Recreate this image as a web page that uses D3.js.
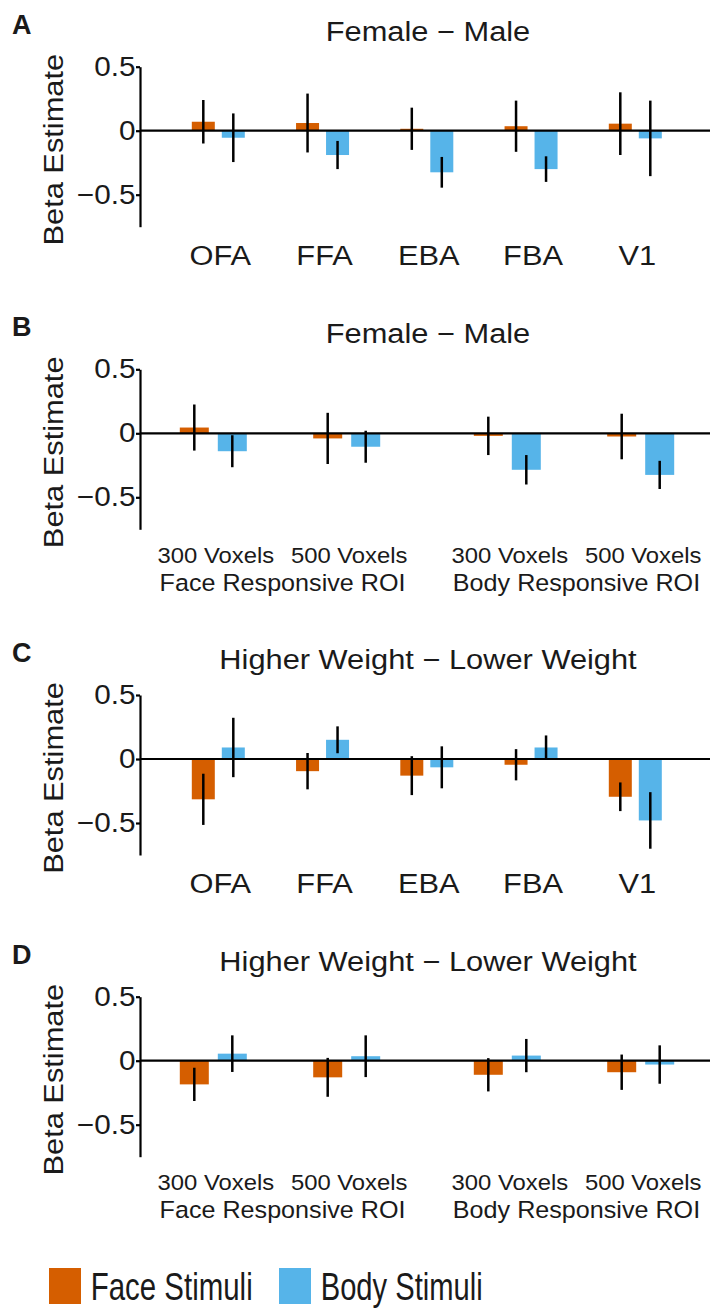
<!DOCTYPE html>
<html>
<head>
<meta charset="utf-8">
<script src="https://cdn.jsdelivr.net/npm/d3@7"></script>
<style>
    body { margin: 0; background: #fff; }
    text { font-family: "Liberation Sans", Arial, Helvetica, sans-serif; fill: #1a1a1a; }
</style>
</head>
<body>
<div id="chart"></div>
<script>
// categories
const regions = ["OFA", "FFA", "EBA", "FBA", "V1"];
const roiGroups = ["Face Responsive ROI", "Body Responsive ROI"];
const voxelSizes = ["300 Voxels", "500 Voxels"];
const stimuli = ["Face Stimuli", "Body Stimuli"];
const yTicks = [-0.5, 0, 0.5];

// A: Female - Male, by region
const sexRegionFace = [0.07, 0.06, 0.015, 0.035, 0.055];
const sexRegionFaceErr = [0.17, 0.23, 0.165, 0.2, 0.245];
const sexRegionBody = [-0.055, -0.19, -0.325, -0.3, -0.06];
const sexRegionBodyErr = [0.19, 0.11, 0.12, 0.1, 0.295];

// B: Female - Male, by ROI size (Face 300, Face 500, Body 300, Body 500)
const sexRoiFace = [0.045, -0.04, -0.02, -0.025];
const sexRoiFaceErr = [0.18, 0.2, 0.15, 0.178];
const sexRoiBody = [-0.14, -0.105, -0.285, -0.325];
const sexRoiBodyErr = [0.125, 0.125, 0.115, 0.11];

// C: Higher Weight - Lower Weight, by region
const weightRegionFace = [-0.315, -0.095, -0.13, -0.045, -0.295];
const weightRegionFaceErr = [0.2, 0.142, 0.152, 0.122, 0.112];
const weightRegionBody = [0.09, 0.15, -0.065, 0.09, -0.48];
const weightRegionBodyErr = [0.232, 0.105, 0.164, 0.094, 0.221];

// D: Higher Weight - Lower Weight, by ROI size
const weightRoiFace = [-0.185, -0.13, -0.11, -0.09];
const weightRoiFaceErr = [0.13, 0.152, 0.13, 0.138];
const weightRoiBody = [0.055, 0.035, 0.04, -0.03];
const weightRoiBodyErr = [0.143, 0.163, 0.13, 0.15];

const colors = {"Face Stimuli": "#D55E00", "Body Stimuli": "#56B4E9"};

const width = 710, height = 1309;
const axisX = 140;
// the figure's font runs a bit wider than Arial
const stretch = 1.1;

let svg = d3.select("#chart").append("svg")
    .attr("width", width)
    .attr("height", height);

let panels = [
    {letter: "A", title: "Female \u2212 Male", top: 66.7, type: "region",
        face: sexRegionFace, faceErr: sexRegionFaceErr, body: sexRegionBody, bodyErr: sexRegionBodyErr},
    {letter: "B", title: "Female \u2212 Male", top: 369.3, type: "roi",
        face: sexRoiFace, faceErr: sexRoiFaceErr, body: sexRoiBody, bodyErr: sexRoiBodyErr},
    {letter: "C", title: "Higher Weight \u2212 Lower Weight", top: 695, type: "region",
        face: weightRegionFace, faceErr: weightRegionFaceErr, body: weightRegionBody, bodyErr: weightRegionBodyErr},
    {letter: "D", title: "Higher Weight \u2212 Lower Weight", top: 996.7, type: "roi",
        face: weightRoiFace, faceErr: weightRoiFaceErr, body: weightRoiBody, bodyErr: weightRoiBodyErr}
];

panels.forEach(p => drawPanel(p));

function drawPanel(p) {
    let g = svg.append("g");

    let y = d3.scaleLinear()
        .domain([-0.75, 0.5])
        .range([p.top + 160, p.top]);

    // x positions
    let cats, xCenter, barW, inner;
    if (p.type === "region") {
        cats = regions;
        let x = d3.scalePoint().domain(regions).range([218.3, 635.3]);
        xCenter = d => x(d);
        inner = d3.scalePoint().domain(stimuli).range([-15, 15]);
        barW = 23;
    } else {
        cats = [];
        roiGroups.forEach(r => voxelSizes.forEach(v => cats.push({roi: r, vox: v})));
        var xRoi = d3.scalePoint().domain(roiGroups).range([280, 574]);
        var xVox = d3.scalePoint().domain(voxelSizes).range([-66.7, 66.7]);
        xCenter = d => xRoi(d.roi) + xVox(d.vox);
        inner = d3.scalePoint().domain(stimuli).range([-19, 19]);
        barW = 29;
    }

    let rows = [];
    cats.forEach((c, i) => {
        rows.push({cat: c, stim: "Face Stimuli", value: p.face[i], err: p.faceErr[i]});
        rows.push({cat: c, stim: "Body Stimuli", value: p.body[i], err: p.bodyErr[i]});
    });

    // bars
    g.selectAll(".bar")
        .data(rows)
        .join("rect")
        .attr("class", "bar")
        .attr("x", d => xCenter(d.cat) + inner(d.stim) - barW / 2)
        .attr("y", d => Math.min(y(d.value), y(0)))
        .attr("width", barW)
        .attr("height", d => Math.abs(y(d.value) - y(0)))
        .attr("fill", d => colors[d.stim]);

    // zero line
    g.append("line")
        .attr("x1", axisX).attr("x2", width)
        .attr("y1", y(0)).attr("y2", y(0))
        .attr("stroke", "#000")
        .attr("stroke-width", 2.2);

    // error bars
    g.selectAll(".err")
        .data(rows)
        .join("line")
        .attr("class", "err")
        .attr("x1", d => xCenter(d.cat) + inner(d.stim))
        .attr("x2", d => xCenter(d.cat) + inner(d.stim))
        .attr("y1", d => y(d.value - d.err))
        .attr("y2", d => y(d.value + d.err))
        .attr("stroke", "#000")
        .attr("stroke-width", 2.5);

    // y axis
    let yAxis = d3.axisLeft(y)
        .tickValues(yTicks)
        .tickSize(4)
        .tickSizeOuter(0)
        .tickPadding(0)
        .tickFormat(d => d === 0 ? "0" : d3.format(".1f")(d));

    let ax = g.append("g")
        .attr("transform", `translate(${axisX}, 0)`)
        .call(yAxis);
    ax.select(".domain").attr("stroke", "#000").attr("stroke-width", 2.2);
    ax.selectAll(".tick line").attr("stroke", "#000").attr("stroke-width", 2.2);
    ax.selectAll(".tick text")
        .attr("font-size", 27)
        .attr("transform", `scale(${stretch}, 1)`)
        .attr("fill", "#1a1a1a");

    // y label
    g.append("text")
        .attr("transform", `translate(63, ${p.top + 83}) rotate(-90) scale(${stretch}, 1)`)
        .attr("text-anchor", "middle")
        .attr("font-size", 28)
        .text("Beta Estimate");

    // title and panel letter
    g.append("text")
        .attr("transform", `translate(428, ${p.top - 26}) scale(${stretch}, 1)`)
        .attr("text-anchor", "middle")
        .attr("font-size", 28)
        .text(p.title);

    g.append("text")
        .attr("x", 12)
        .attr("y", p.top - 33)
        .attr("font-size", 27)
        .attr("font-weight", "bold")
        .attr("fill", "#000")
        .text(p.letter);

    // category labels
    if (p.type === "region") {
        g.selectAll(".cat")
            .data(regions)
            .join("text")
            .attr("class", "cat")
            .attr("transform", d => `translate(${xCenter(d) + 2}, ${p.top + 198.3}) scale(${stretch}, 1)`)
            .attr("text-anchor", "middle")
            .attr("font-size", 28)
            .text(d => d);
    } else {
        g.selectAll(".vox")
            .data(cats)
            .join("text")
            .attr("class", "vox")
            .attr("transform", d => `translate(${xCenter(d) + 2.5}, ${p.top + 193.4}) scale(1.06, 1)`)
            .attr("text-anchor", "middle")
            .attr("font-size", 22.5)
            .text(d => d.vox);

        g.selectAll(".roi")
            .data(roiGroups)
            .join("text")
            .attr("class", "roi")
            .attr("transform", d => `translate(${xRoi(d) + 2.5}, ${p.top + 221.7}) scale(1.07, 1)`)
            .attr("text-anchor", "middle")
            .attr("font-size", 23.5)
            .text(d => d);
    }
}

// legend
let legend = svg.append("g")
    .selectAll("g")
    .data(stimuli)
    .join("g")
    .attr("transform", (d, i) => `translate(${49 + i * 230}, 1268)`);

legend.append("rect")
    .attr("width", 32)
    .attr("height", 36)
    .attr("fill", d => colors[d]);

legend.append("text")
    .attr("x", 41.7)
    .attr("y", 32)
    .attr("font-size", 39)
    .attr("textLength", 162)
    .attr("lengthAdjust", "spacingAndGlyphs")
    .text(d => d);
</script>
</body>
</html>
